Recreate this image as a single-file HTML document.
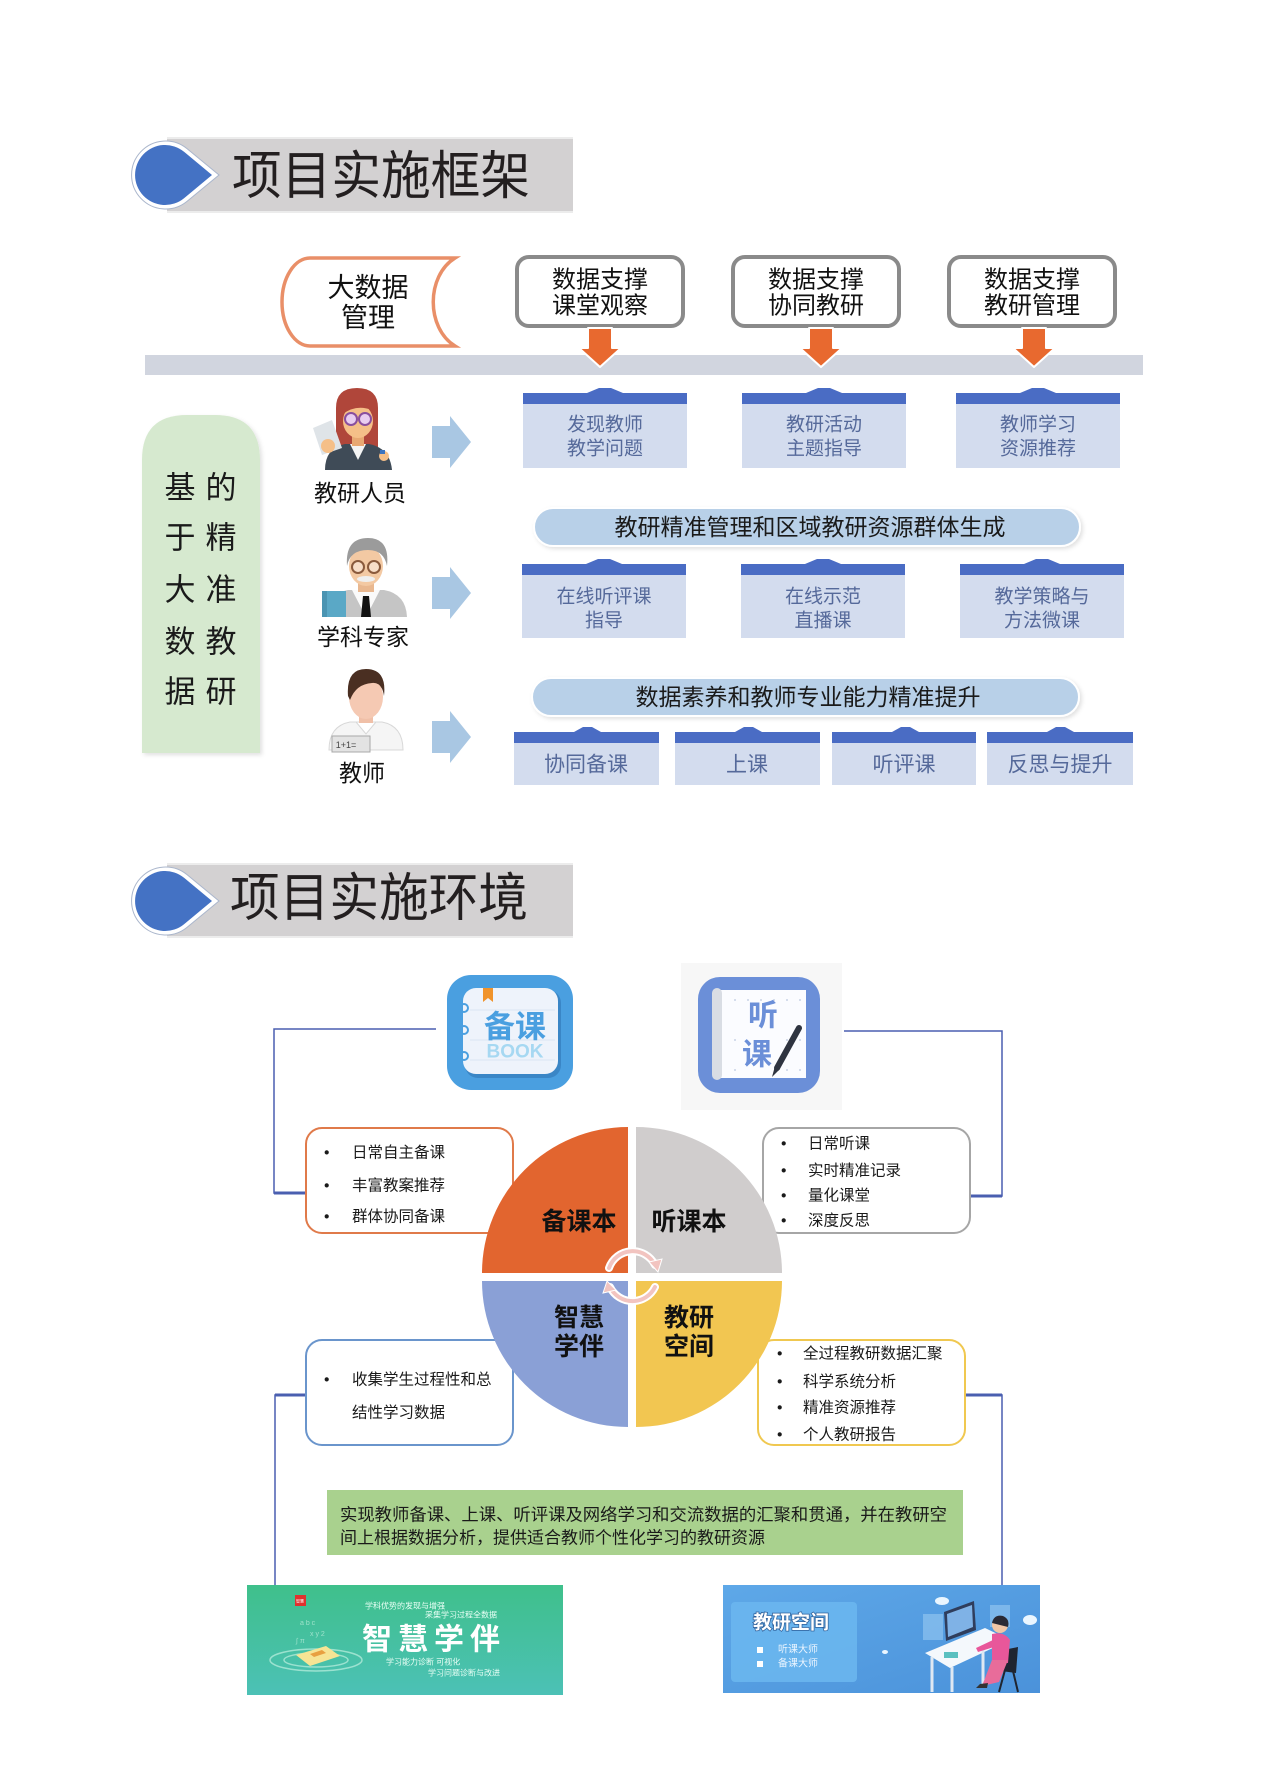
<!DOCTYPE html>
<html>
<head>
<meta charset="utf-8">
<style>
html,body{margin:0;padding:0;background:#fff;}
body{width:1276px;height:1790px;overflow:hidden;}
svg{display:block;}
text{font-family:"Liberation Sans","Noto Sans CJK SC",sans-serif;}
</style>
</head>
<body>
<svg width="1276" height="1790" viewBox="0 0 1276 1790" xmlns="http://www.w3.org/2000/svg">
<defs>
  <linearGradient id="gL" x1="0" y1="0" x2="0" y2="1">
    <stop offset="0" stop-color="#3fc08b"/>
    <stop offset="1" stop-color="#4cc1b6"/>
  </linearGradient>
  <linearGradient id="gR" x1="0" y1="0" x2="1" y2="1">
    <stop offset="0" stop-color="#5ea8e8"/>
    <stop offset="1" stop-color="#4b92da"/>
  </linearGradient>
  <filter id="sh" x="-10%" y="-10%" width="130%" height="130%">
    <feDropShadow dx="2" dy="2" stdDeviation="2" flood-color="#000" flood-opacity="0.12"/>
  </filter>
</defs>

<!-- ================= SECTION 1 TITLE ================= -->
<rect x="167" y="137" width="406" height="76" fill="#d3d1d2"/>
<line x1="167" y1="138" x2="573" y2="138" stroke="#ececec" stroke-width="2"/>
<line x1="167" y1="212" x2="573" y2="212" stroke="#ececec" stroke-width="2"/>
<path d="M219,175 L187,148.6 A34,34 0 1,0 187,201.4 Z" fill="#fff" stroke="#aab6cc" stroke-width="1"/>
<path d="M212,175 L184.2,151.9 A30,30 0 1,0 184.2,198.1 Z" fill="#4472c4"/>
<text x="232" y="177" font-size="52" fill="#231f20" dominant-baseline="central" textLength="298" lengthAdjust="spacingAndGlyphs">项目实施框架</text>

<!-- 大数据管理 -->
<path d="M310,258 L455,258 C426,276 426,328 455,346 L310,346 A28,44 0 0,1 310,258 Z" fill="#fff" stroke="#e98f68" stroke-width="3.5"/>
<text x="368" y="288" font-size="27" fill="#111" text-anchor="middle" dominant-baseline="central">大数据</text>
<text x="368" y="318" font-size="27" fill="#111" text-anchor="middle" dominant-baseline="central">管理</text>

<!-- gray boxes -->
<g stroke="#8a8a8a" stroke-width="4" fill="#fff">
  <rect x="517" y="257" width="166" height="69" rx="12"/>
  <rect x="733" y="257" width="166" height="69" rx="12"/>
  <rect x="949" y="257" width="166" height="69" rx="12"/>
</g>
<g font-size="24" fill="#111" text-anchor="middle" dominant-baseline="central">
  <text x="600" y="280">数据支撑</text><text x="600" y="306">课堂观察</text>
  <text x="816" y="280">数据支撑</text><text x="816" y="306">协同教研</text>
  <text x="1032" y="280">数据支撑</text><text x="1032" y="306">教研管理</text>
</g>

<!-- bar -->
<rect x="145" y="355" width="998" height="20" fill="#d1d5df"/>

<!-- orange arrows -->
<g fill="#e8692f" stroke="#fff" stroke-width="2" stroke-linejoin="round">
  <path d="M588,328 L612,328 L612,348 L621,348 L600,367 L579,348 L588,348 Z"/>
  <path d="M809,328 L833,328 L833,348 L842,348 L821,367 L800,348 L809,348 Z"/>
  <path d="M1022,328 L1046,328 L1046,348 L1055,348 L1034,367 L1013,348 L1022,348 Z"/>
</g>

<!-- Row 1 blue boxes -->
<g>
  <rect x="523" y="404" width="164" height="64" fill="#d3dcee"/>
  <rect x="523" y="393" width="164" height="11" fill="#4a6cc4"/>
  <polygon points="587,393 599,388 611,388 623,393" fill="#4a6cc4"/>
  <rect x="742" y="404" width="164" height="64" fill="#d3dcee"/>
  <rect x="742" y="393" width="164" height="11" fill="#4a6cc4"/>
  <polygon points="806,393 818,388 830,388 842,393" fill="#4a6cc4"/>
  <rect x="956" y="404" width="164" height="64" fill="#d3dcee"/>
  <rect x="956" y="393" width="164" height="11" fill="#4a6cc4"/>
  <polygon points="1020,393 1032,388 1044,388 1056,393" fill="#4a6cc4"/>
</g>
<g font-size="19" fill="#55699a" text-anchor="middle" dominant-baseline="central">
  <text x="605" y="425">发现教师</text><text x="605" y="449">教学问题</text>
  <text x="824" y="425">教研活动</text><text x="824" y="449">主题指导</text>
  <text x="1038" y="425">教师学习</text><text x="1038" y="449">资源推荐</text>
</g>

<!-- Pill 1 -->
<rect x="534" y="508" width="546" height="38" rx="19" fill="#b8d0e8" stroke="#fff" stroke-width="2" filter="url(#sh)"/>
<text x="810" y="527" font-size="23" fill="#1a1a1a" text-anchor="middle" dominant-baseline="central">教研精准管理和区域教研资源群体生成</text>

<!-- Row 2 -->
<g>
  <rect x="522" y="575" width="164" height="63" fill="#d3dcee"/>
  <rect x="522" y="564" width="164" height="11" fill="#4a6cc4"/>
  <polygon points="586,564 598,559 610,559 622,564" fill="#4a6cc4"/>
  <rect x="741" y="575" width="164" height="63" fill="#d3dcee"/>
  <rect x="741" y="564" width="164" height="11" fill="#4a6cc4"/>
  <polygon points="805,564 817,559 829,559 841,564" fill="#4a6cc4"/>
  <rect x="960" y="575" width="164" height="63" fill="#d3dcee"/>
  <rect x="960" y="564" width="164" height="11" fill="#4a6cc4"/>
  <polygon points="1024,564 1036,559 1048,559 1060,564" fill="#4a6cc4"/>
</g>
<g font-size="19" fill="#55699a" text-anchor="middle" dominant-baseline="central">
  <text x="604" y="597">在线听评课</text><text x="604" y="621">指导</text>
  <text x="823" y="597">在线示范</text><text x="823" y="621">直播课</text>
  <text x="1042" y="597">教学策略与</text><text x="1042" y="621">方法微课</text>
</g>

<!-- Pill 2 -->
<rect x="532" y="678" width="547" height="38" rx="19" fill="#b8d0e8" stroke="#fff" stroke-width="2" filter="url(#sh)"/>
<text x="808" y="697" font-size="23" fill="#1a1a1a" text-anchor="middle" dominant-baseline="central">数据素养和教师专业能力精准提升</text>

<!-- Row 3 -->
<g>
  <rect x="514" y="743" width="145" height="42" fill="#d3dcee"/>
  <rect x="514" y="732" width="145" height="11" fill="#4a6cc4"/>
  <polygon points="574,732 583,727 592,727 601,732" fill="#4a6cc4"/>
  <rect x="675" y="743" width="145" height="42" fill="#d3dcee"/>
  <rect x="675" y="732" width="145" height="11" fill="#4a6cc4"/>
  <polygon points="735,732 744,727 753,727 762,732" fill="#4a6cc4"/>
  <rect x="832" y="743" width="144" height="42" fill="#d3dcee"/>
  <rect x="832" y="732" width="144" height="11" fill="#4a6cc4"/>
  <polygon points="892,732 901,727 910,727 919,732" fill="#4a6cc4"/>
  <rect x="987" y="743" width="146" height="42" fill="#d3dcee"/>
  <rect x="987" y="732" width="146" height="11" fill="#4a6cc4"/>
  <polygon points="1047,732 1056,727 1065,727 1074,732" fill="#4a6cc4"/>
</g>
<g font-size="21" fill="#55699a" text-anchor="middle" dominant-baseline="central">
  <text x="586" y="765">协同备课</text>
  <text x="747" y="765">上课</text>
  <text x="904" y="765">听评课</text>
  <text x="1060" y="765">反思与提升</text>
</g>

<!-- Green vertical box -->
<path d="M142,753 L142,460 Q142,415 187,415 L215,415 Q260,415 260,460 L260,753 Z" fill="#d6e9cf" filter="url(#sh)"/>
<g font-size="31" fill="#1a1a1a" text-anchor="middle" dominant-baseline="central">
  <text x="180" y="488">基</text><text x="180" y="538">于</text><text x="180" y="590">大</text><text x="180" y="642">数</text><text x="180" y="692">据</text>
  <text x="221" y="488">的</text><text x="221" y="538">精</text><text x="221" y="590">准</text><text x="221" y="642">教</text><text x="221" y="692">研</text>
</g>

<!-- Person 1: 教研人员 (woman) -->
<g>
  <path d="M336,470 L336,408 Q336,388 357,388 Q378,388 378,408 L378,460 Z" fill="#b0463a"/>
  <path d="M325,470 Q325,448 345,444 L369,444 Q390,448 392,470 Z" fill="#3f4b57"/>
  <polygon points="350,444 366,444 358,460" fill="#f4f4f4"/>
  <rect x="352" y="436" width="12" height="10" fill="#e8a872"/>
  <ellipse cx="358" cy="421" rx="15" ry="17" fill="#f5bf88"/>
  <path d="M343,412 Q350,398 372,404 L372,410 Q356,404 343,414 Z" fill="#b0463a"/>
  <circle cx="351" cy="419" r="6" fill="#e9cdf0" stroke="#8a4f9e" stroke-width="2"/>
  <circle cx="365" cy="419" r="6" fill="#e9cdf0" stroke="#8a4f9e" stroke-width="2"/>
  <polygon points="313,428 332,420 342,448 322,455" fill="#dfe4e8"/>
  <circle cx="328" cy="446" r="7" fill="#f5bf88"/>
  <circle cx="384" cy="456" r="5" fill="#f5bf88"/>
  <rect x="380" y="450" width="5" height="4" fill="#3b74c0"/>
</g>
<text x="360" y="493" font-size="23" fill="#111" text-anchor="middle" dominant-baseline="central">教研人员</text>

<!-- Person 2: 学科专家 (old man) -->
<g>
  <path d="M326,617 Q326,594 348,590 L384,590 Q406,594 407,617 Z" fill="#c5c5c5"/>
  <polygon points="352,590 380,590 366,617" fill="#fafafa"/>
  <polygon points="363,596 369,596 371,617 361,617" fill="#111"/>
  <rect x="358" y="582" width="16" height="10" fill="#e9b890"/>
  <ellipse cx="366" cy="566" rx="17" ry="20" fill="#f3c9a3"/>
  <path d="M347,566 Q345,538 368,538 Q390,538 387,566 Q384,550 368,550 Q350,550 347,566 Z" fill="#9b9b9b"/>
  <circle cx="358" cy="567" r="6" fill="#fff" fill-opacity="0.4" stroke="#8a5a3c" stroke-width="2"/>
  <circle cx="374" cy="567" r="6" fill="#fff" fill-opacity="0.4" stroke="#8a5a3c" stroke-width="2"/>
  <ellipse cx="366" cy="579" rx="9" ry="3" fill="#efefef"/>
  <rect x="322" y="591" width="24" height="26" fill="#5aa8c6"/>
  <rect x="322" y="591" width="5" height="26" fill="#4a94b2"/>
</g>
<text x="363" y="637" font-size="23" fill="#111" text-anchor="middle" dominant-baseline="central">学科专家</text>

<!-- Person 3: 教师 -->
<g>
  <path d="M329,750 Q329,726 350,722 L382,722 Q403,726 403,750 Z" fill="#f5f5f5" stroke="#d8d8d8" stroke-width="1"/>
  <polygon points="356,722 376,722 366,734" fill="#fff" stroke="#d8d8d8" stroke-width="1"/>
  <rect x="359" y="710" width="14" height="13" fill="#f0c0a8"/>
  <ellipse cx="366" cy="697" rx="17" ry="22" fill="#f5c9b3"/>
  <path d="M348,696 Q346,669 366,669 Q387,669 384,696 Q382,682 372,683 Q356,684 350,700 Z" fill="#4a2f22"/>
  <rect x="332" y="736" width="38" height="16" fill="#e3e3e3" stroke="#a8a8a8" stroke-width="1"/>
  <text x="346" y="745" font-size="9" fill="#444" text-anchor="middle" dominant-baseline="central">1+1=</text>
</g>
<text x="362" y="773" font-size="23" fill="#111" text-anchor="middle" dominant-baseline="central">教师</text>

<!-- Blue arrows -->
<g fill="#a9c7e3">
  <polygon points="432,426 450,426 450,416 471,442 450,468 450,458 432,458"/>
  <polygon points="432,577 450,577 450,567 471,593 450,619 450,609 432,609"/>
  <polygon points="432,721 450,721 450,711 471,737 450,763 450,753 432,753"/>
</g>

<!-- ================= SECTION 2 TITLE ================= -->
<rect x="167" y="863" width="406" height="75" fill="#d3d1d2"/>
<line x1="167" y1="864" x2="573" y2="864" stroke="#ececec" stroke-width="2"/>
<line x1="167" y1="937" x2="573" y2="937" stroke="#ececec" stroke-width="2"/>
<path d="M219,901 L187,874.6 A34,34 0 1,0 187,927.4 Z" fill="#fff" stroke="#aab6cc" stroke-width="1"/>
<path d="M212,901 L184.2,877.9 A30,30 0 1,0 184.2,924.1 Z" fill="#4472c4"/>
<text x="230" y="899" font-size="52" fill="#231f20" dominant-baseline="central" textLength="298" lengthAdjust="spacingAndGlyphs">项目实施环境</text>

<!-- connectors -->
<g fill="none" stroke="#4a5fb0" stroke-width="1.5">
  <polyline points="436,1029 274,1029 274,1193 306,1193"/>
  <polyline points="844,1031 1002,1031 1002,1196 970,1196"/>
  <polyline points="306,1395 275,1395 275,1585"/>
  <polyline points="965,1395 1002,1395 1002,1585"/>
</g>
<g stroke="#4a5fb0" stroke-width="3">
  <line x1="274" y1="1193" x2="306" y2="1193"/>
  <line x1="1002" y1="1196" x2="970" y2="1196"/>
  <line x1="306" y1="1395" x2="275" y2="1395"/>
  <line x1="965" y1="1395" x2="1002" y2="1395"/>
</g>

<!-- 备课 icon -->
<g>
  <rect x="447" y="975" width="126" height="115" rx="24" fill="#4a9fe0"/>
  <rect x="465" y="990" width="96" height="88" rx="13" fill="#3a86c6"/>
  <rect x="463" y="988" width="95" height="86" rx="13" fill="#eef3fb"/>
  <line x1="470" y1="1010" x2="555" y2="1010" stroke="#dbe6f3" stroke-width="1"/>
  <line x1="470" y1="1040" x2="555" y2="1040" stroke="#dbe6f3" stroke-width="1"/>
  <line x1="470" y1="1060" x2="555" y2="1060" stroke="#dbe6f3" stroke-width="1"/>
  <circle cx="464" cy="1008" r="4" fill="none" stroke="#4a9fe0" stroke-width="2"/>
  <circle cx="464" cy="1030" r="4" fill="none" stroke="#4a9fe0" stroke-width="2"/>
  <circle cx="464" cy="1056" r="4" fill="none" stroke="#4a9fe0" stroke-width="2"/>
  <polygon points="483,988 493,988 493,1002 488,998 483,1002" fill="#f0932b"/>
  <text x="515" y="1027" font-size="31" font-weight="bold" fill="#4a9fe0" text-anchor="middle" dominant-baseline="central">备课</text>
  <text x="515" y="1052" font-size="19" font-weight="bold" fill="#a6d8f2" text-anchor="middle" dominant-baseline="central">BOOK</text>
</g>

<!-- 听课 icon -->
<g>
  <rect x="681" y="963" width="161" height="147" fill="#f7f7f7"/>
  <rect x="698" y="977" width="122" height="116" rx="22" fill="#6b8fd8"/>
  <rect x="716" y="990" width="90" height="88" fill="#fbfcff"/>
  <rect x="712" y="988" width="10" height="92" rx="5" fill="#d9dde4"/>
  <g fill="#c9d3e6">
    <circle cx="735" cy="1000" r="1"/><circle cx="748" cy="1000" r="1"/><circle cx="761" cy="1000" r="1"/><circle cx="774" cy="1000" r="1"/><circle cx="787" cy="1000" r="1"/><circle cx="800" cy="1000" r="1"/>
    <circle cx="735" cy="1040" r="1"/><circle cx="787" cy="1040" r="1"/><circle cx="800" cy="1040" r="1"/>
    <circle cx="735" cy="1070" r="1"/><circle cx="787" cy="1070" r="1"/><circle cx="800" cy="1070" r="1"/>
  </g>
  <text x="763" y="1016" font-size="30" font-weight="bold" fill="#6b8fd8" text-anchor="middle" dominant-baseline="central">听</text>
  <text x="757" y="1055" font-size="30" font-weight="bold" fill="#6b8fd8" text-anchor="middle" dominant-baseline="central">课</text>
  <line x1="799" y1="1028" x2="777" y2="1068" stroke="#2f3440" stroke-width="6" stroke-linecap="round"/>
  <polygon points="775,1066 780,1069 772,1077" fill="#2f3440"/>
</g>

<!-- list boxes -->
<rect x="306" y="1128" width="207" height="105" rx="16" fill="#fff" stroke="#e07a4a" stroke-width="2"/>
<rect x="763" y="1128" width="207" height="105" rx="16" fill="#fff" stroke="#a6a6a6" stroke-width="2"/>
<rect x="306" y="1340" width="207" height="105" rx="16" fill="#fff" stroke="#6a95cc" stroke-width="2"/>
<rect x="758" y="1340" width="207" height="105" rx="16" fill="#fff" stroke="#f0c850" stroke-width="2"/>

<g font-size="15.5" fill="#1a1a1a" dominant-baseline="central">
  <text x="324" y="1153">•</text><text x="352" y="1153">日常自主备课</text>
  <text x="324" y="1186">•</text><text x="352" y="1186">丰富教案推荐</text>
  <text x="324" y="1217">•</text><text x="352" y="1217">群体协同备课</text>

  <text x="781" y="1144">•</text><text x="808" y="1144">日常听课</text>
  <text x="781" y="1171">•</text><text x="808" y="1171">实时精准记录</text>
  <text x="781" y="1196">•</text><text x="808" y="1196">量化课堂</text>
  <text x="781" y="1221">•</text><text x="808" y="1221">深度反思</text>

  <text x="324" y="1380">•</text><text x="352" y="1380">收集学生过程性和总</text>
  <text x="352" y="1413">结性学习数据</text>

  <text x="777" y="1354">•</text><text x="803" y="1354">全过程教研数据汇聚</text>
  <text x="777" y="1382">•</text><text x="803" y="1382">科学系统分析</text>
  <text x="777" y="1408">•</text><text x="803" y="1408">精准资源推荐</text>
  <text x="777" y="1435">•</text><text x="803" y="1435">个人教研报告</text>
</g>

<!-- circle quadrants -->
<path d="M628,1273 L482,1273 A146,146 0 0,1 628,1127 Z" fill="#e2652f"/>
<path d="M636,1273 L636,1127 A146,146 0 0,1 782,1273 Z" fill="#d0cdcd"/>
<path d="M628,1281 L628,1427 A146,146 0 0,1 482,1281 Z" fill="#8aa0d6"/>
<path d="M636,1281 L782,1281 A146,146 0 0,1 636,1427 Z" fill="#f2c651"/>

<!-- cycle arrows -->
<g fill="none" stroke-linecap="round">
  <path d="M609,1268 A25,25 0 0,1 655,1265" stroke="#fff" stroke-width="8"/>
  <path d="M609,1268 A25,25 0 0,1 655,1265" stroke="#f2c4c0" stroke-width="4"/>
  <path d="M655,1287 A25,25 0 0,1 610,1287" stroke="#fff" stroke-width="8"/>
  <path d="M655,1287 A25,25 0 0,1 610,1287" stroke="#f2c4c0" stroke-width="4"/>
</g>
<polygon points="649,1262 662,1259 658,1272" fill="#f2c4c0" stroke="#fff" stroke-width="1"/>
<polygon points="616,1290 603,1293 607,1281" fill="#f2c4c0" stroke="#fff" stroke-width="1"/>

<g font-size="25" font-weight="bold" fill="#111" text-anchor="middle" dominant-baseline="central">
  <text x="579" y="1222">备课本</text>
  <text x="689" y="1222">听课本</text>
  <text x="579" y="1318">智慧</text><text x="579" y="1347">学伴</text>
  <text x="689" y="1318">教研</text><text x="689" y="1347">空间</text>
</g>

<!-- green text box -->
<rect x="327" y="1490" width="636" height="65" fill="#a9d18e"/>
<text x="340" y="1515" font-size="17" fill="#1a1a1a" dominant-baseline="central" textLength="607" lengthAdjust="spacingAndGlyphs">实现教师备课、上课、听评课及网络学习和交流数据的汇聚和贯通，并在教研空</text>
<text x="340" y="1538" font-size="17" fill="#1a1a1a" dominant-baseline="central">间上根据数据分析，提供适合教师个性化学习的教研资源</text>

<!-- bottom left image -->
<g>
  <rect x="247" y="1585" width="316" height="110" fill="url(#gL)"/>
  <rect x="295" y="1595" width="11" height="11" fill="#e0312e"/>
  <text x="300" y="1601" font-size="4" fill="#fff" text-anchor="middle" dominant-baseline="central">智慧</text>
  <text x="365" y="1606" font-size="8" fill="#eafff6" dominant-baseline="central">学科优势的发现与增强</text>
  <text x="425" y="1615" font-size="8" fill="#eafff6" dominant-baseline="central">采集学习过程全数据</text>
  <text x="434" y="1640" font-size="30" font-weight="bold" fill="#fff" text-anchor="middle" dominant-baseline="central" letter-spacing="6">智慧学伴</text>
  <text x="386" y="1662" font-size="8" fill="#eafff6" dominant-baseline="central">学习能力诊断 可视化</text>
  <text x="428" y="1673" font-size="8" fill="#eafff6" dominant-baseline="central">学习问题诊断与改进</text>
  <ellipse cx="316" cy="1660" rx="46" ry="11" fill="none" stroke="#bff0df" stroke-width="1.5" opacity="0.7"/>
  <ellipse cx="316" cy="1660" rx="32" ry="7" fill="none" stroke="#bff0df" stroke-width="1.5" opacity="0.7"/>
  <polygon points="296,1655 326,1646 340,1656 310,1666" fill="#f6e494"/>
  <polygon points="310,1654 322,1650 326,1653 314,1657" fill="#e8a040"/>
  <g fill="#d8f7ea" opacity="0.6" font-size="7">
    <text x="300" y="1625">a b c</text><text x="310" y="1636">x y 2</text><text x="296" y="1643">∫ π</text>
  </g>
</g>

<!-- bottom right image -->
<g>
  <rect x="723" y="1585" width="317" height="108" fill="url(#gR)"/>
  <rect x="731" y="1602" width="126" height="80" rx="4" fill="#6ab6ee" opacity="0.9"/>
  <text x="753" y="1623" font-size="19" font-weight="bold" fill="#fff" stroke="#2d5f9a" stroke-width="1.5" paint-order="stroke" dominant-baseline="central">教研空间</text>
  <rect x="757" y="1647" width="6" height="6" fill="#fff"/>
  <text x="778" y="1650" font-size="10" fill="#eaf4ff" dominant-baseline="central">听课大师</text>
  <rect x="757" y="1661" width="6" height="6" fill="#fff"/>
  <text x="778" y="1664" font-size="10" fill="#eaf4ff" dominant-baseline="central">备课大师</text>
  <!-- clouds -->
  <ellipse cx="942" cy="1601" rx="7" ry="4" fill="#eaf6ff"/>
  <ellipse cx="1030" cy="1620" rx="7" ry="5" fill="#eaf6ff"/>
  <ellipse cx="885" cy="1652" rx="3" ry="2" fill="#eaf6ff"/>
  <!-- screens -->
  <rect x="923" y="1614" width="20" height="26" fill="#8fc3ef" opacity="0.7"/>
  <rect x="990" y="1605" width="20" height="22" fill="#8fc3ef" opacity="0.7"/>
  <!-- desk -->
  <polygon points="925,1653 985,1628 1010,1640 950,1668" fill="#f4f8fc"/>
  <line x1="932" y1="1657" x2="932" y2="1692" stroke="#dfe8f2" stroke-width="3"/>
  <line x1="952" y1="1667" x2="952" y2="1692" stroke="#dfe8f2" stroke-width="3"/>
  <line x1="983" y1="1645" x2="983" y2="1684" stroke="#dfe8f2" stroke-width="3"/>
  <!-- monitor -->
  <polygon points="944,1612 974,1601 976,1630 946,1641" fill="#2f3d5c"/>
  <polygon points="947,1614 972,1605 973,1627 948,1637" fill="#7fb2e6"/>
  <rect x="944" y="1652" width="14" height="6" fill="#5bc0c0"/>
  <!-- chair -->
  <polygon points="1003,1650 1018,1647 1016,1673 1001,1671" fill="#1f2530"/>
  <line x1="1005" y1="1670" x2="999" y2="1692" stroke="#1f2530" stroke-width="2"/>
  <line x1="1013" y1="1671" x2="1018" y2="1692" stroke="#1f2530" stroke-width="2"/>
  <!-- person -->
  <circle cx="1000" cy="1625" r="8" fill="#f1c6a6"/>
  <path d="M992,1623 Q994,1614 1003,1616 Q1010,1619 1008,1627 Z" fill="#2a2a35"/>
  <path d="M992,1634 Q1004,1631 1010,1640 L1008,1663 L992,1663 Z" fill="#e8579a"/>
  <polygon points="992,1660 1008,1660 999,1682 982,1686" fill="#e86c9a"/>
  <polygon points="993,1640 976,1648 978,1652 994,1647" fill="#e8579a"/>
  <polygon points="980,1684 988,1683 987,1688 976,1688" fill="#333"/>
</g>

</svg>
</body>
</html>
